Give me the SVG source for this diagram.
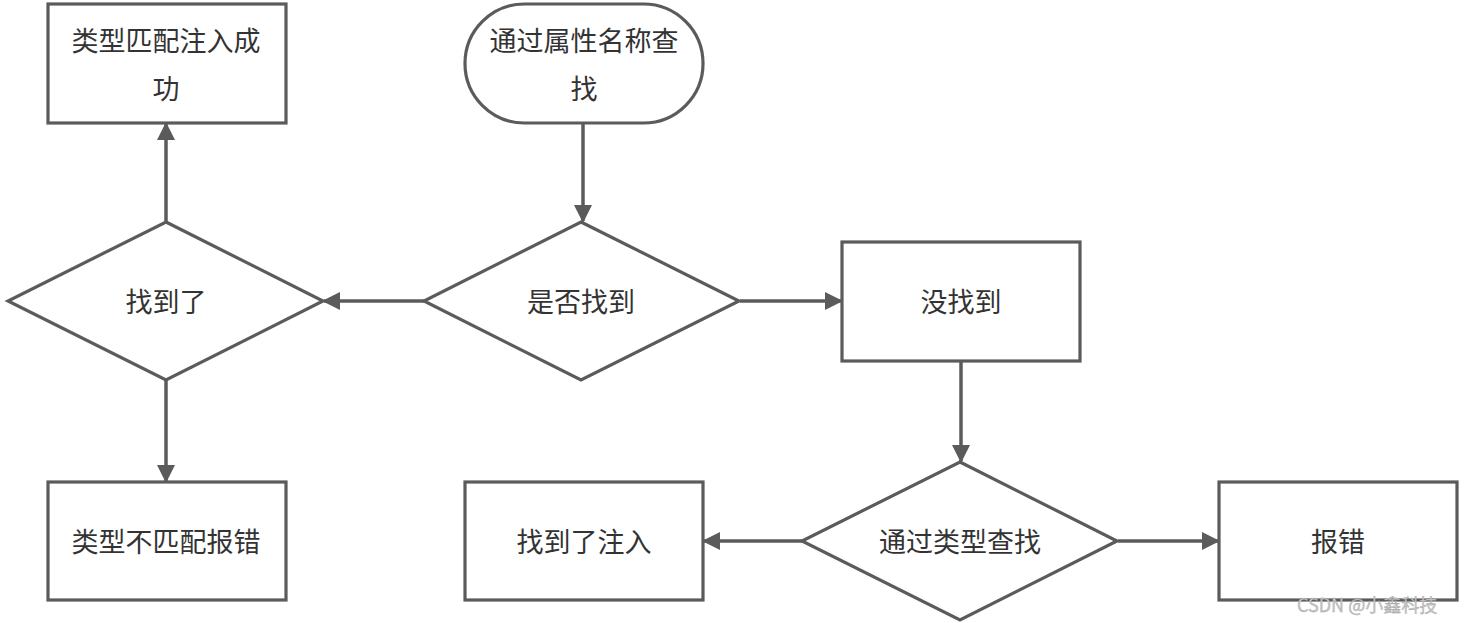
<svg xmlns="http://www.w3.org/2000/svg" width="1465" height="623" viewBox="0 0 1465 623">
<defs>
<style>
.n{fill:#fff;stroke:#5b5b5b;stroke-width:3.2}
.t{font-family:"Noto Sans CJK SC","Liberation Sans",sans-serif;font-size:27px;fill:#333;text-anchor:middle;dominant-baseline:central}
.c{stroke:#5b5b5b;stroke-width:3.5;fill:none;marker-end:url(#ah)}
</style>
<marker id="ah" markerWidth="18" markerHeight="18" refX="16" refY="9" orient="auto" markerUnits="userSpaceOnUse">
<path d="M0,0 L18,9 L0,18 z" fill="#5b5b5b"/>
</marker>
</defs>
<rect width="1465" height="623" fill="#fff"/>
<g id="connectors">
<line class="c" x1="583" y1="124" x2="583" y2="221"/>
<line class="c" x1="424" y1="301" x2="324" y2="301"/>
<line class="c" x1="740" y1="301" x2="841" y2="301"/>
<line class="c" x1="166" y1="222" x2="166" y2="124"/>
<line class="c" x1="166" y1="380" x2="166" y2="481"/>
<line class="c" x1="961" y1="362" x2="961" y2="461"/>
<line class="c" x1="802" y1="541" x2="704" y2="541"/>
<line class="c" x1="1118" y1="541" x2="1218" y2="541"/>
</g>
<g id="start">
<rect class="n" x="465" y="4" width="238" height="119" rx="59.5" ry="59.5"/>
<text class="t" x="584" y="39">通过属性名称查</text>
<text class="t" x="584" y="87">找</text>
</g>
<g id="success">
<rect class="n" x="48" y="4" width="238" height="119"/>
<text class="t" x="166" y="39">类型匹配注入成</text>
<text class="t" x="166" y="87">功</text>
</g>
<g id="decide">
<polygon class="n" points="581,222 739,301 581,380 424,301"/>
<text class="t" x="581" y="300">是否找到</text>
</g>
<g id="found">
<polygon class="n" points="166,222 323,301 166,380 8,301"/>
<text class="t" x="166" y="300">找到了</text>
</g>
<g id="notfound">
<rect class="n" x="842" y="242" width="238" height="119"/>
<text class="t" x="961" y="300">没找到</text>
</g>
<g id="mismatch">
<rect class="n" x="48" y="482" width="238" height="118"/>
<text class="t" x="166" y="540">类型不匹配报错</text>
</g>
<g id="typesearch">
<polygon class="n" points="960,462 1117,541 960,620 802,541"/>
<text class="t" x="960" y="540">通过类型查找</text>
</g>
<g id="inject">
<rect class="n" x="465" y="482" width="238" height="118"/>
<text class="t" x="584" y="540">找到了注入</text>
</g>
<g id="error">
<rect class="n" x="1219" y="482" width="238" height="118"/>
<text class="t" x="1338" y="540">报错</text>
</g>
<text x="1297" y="612" font-family="'Noto Sans CJK SC','Liberation Sans',sans-serif" font-size="18" fill="#c8c8c8" stroke="#999" stroke-width="0.3">CSDN @小鑫科技</text>
</svg>
